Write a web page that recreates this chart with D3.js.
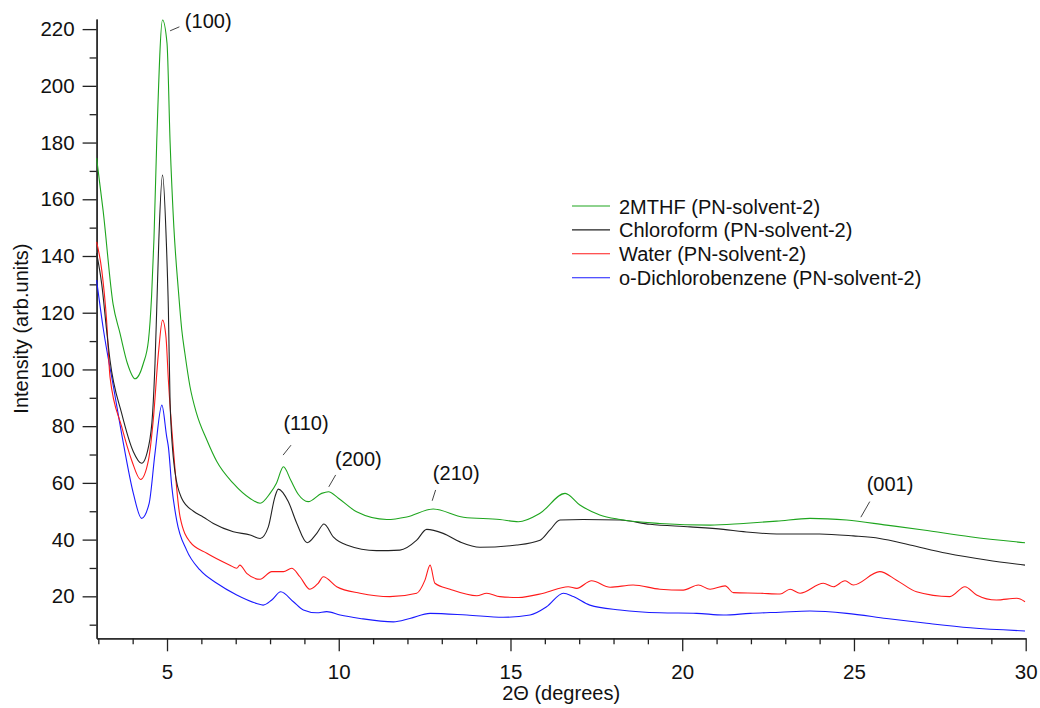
<!DOCTYPE html>
<html>
<head>
<meta charset="utf-8">
<script src="https://cdn.jsdelivr.net/npm/d3@7"></script>
<style>
  body { margin: 0; background: #fff; }
  svg text { font-family: "Liberation Sans", Arial, sans-serif; fill: #111; }
</style>
</head>
<body>
<svg id="chart" width="1040" height="708"></svg>
<script>
// 2-theta / intensity pairs
var mthf = [[2.95,174.5],[3.14,156],[3.43,123],[3.63,112.8],[3.85,102],[4.07,96.7],[4.31,102.1],[4.46,110.3],[4.55,125.6],[4.62,146],[4.7,180],[4.87,223.2],[5.0,215],[5.09,180],[5.2,150],[5.33,128],[5.43,113.9],[5.52,105.7],[5.67,93.9],[5.86,84.5],[6.16,75.1],[6.45,67.5],[6.93,59.8],[7.42,54.5],[7.71,52.8],[8.0,56.3],[8.19,60],[8.39,65.7],[8.6,61],[8.82,56],[9.11,53.4],[9.5,56.3],[9.7,56.9],[9.99,54.6],[10.52,49.8],[11.4,47.1],[11.98,48],[12.75,50.8],[13.63,47.9],[14.69,47.1],[15.23,46.3],[15.86,49.3],[16.59,56.3],[17.02,52.2],[17.6,48.7],[18.19,47.1],[19.35,45.7],[20.81,45.1],[21.78,45.7],[22.75,46.5],[23.72,47.5],[24.79,46.9],[25.95,45.1],[27.02,43.4],[28.38,41],[29.98,38.9]];

var chloroform = [[2.95,141],[3.1,130],[3.24,114],[3.34,103.3],[3.68,84.5],[4.02,71],[4.26,66.9],[4.46,72.7],[4.58,84.5],[4.65,102],[4.7,121],[4.76,145],[4.87,168.5],[4.98,145],[5.04,121],[5.09,88],[5.23,64],[5.43,54.5],[5.77,50],[6.05,48],[6.35,45.7],[6.93,42.8],[7.42,41.6],[7.71,40.4],[7.95,44.5],[8.14,55],[8.24,57.8],[8.53,53.4],[8.78,45.7],[9.08,38.9],[9.36,42.2],[9.57,45.5],[9.84,41],[10.23,38.1],[11.1,36.1],[11.78,36.3],[12.27,39.8],[12.56,43.6],[13.04,42.2],[13.53,39.2],[14.11,37.3],[15.18,38.1],[15.86,39.8],[16.15,43.4],[16.44,46.9],[17.12,47.1],[18.19,46.9],[19.06,45.4],[20.23,44.5],[21.2,43.6],[21.78,42.8],[22.75,42],[24.0,42],[24.98,41.3],[25.75,40.4],[26.63,38.1],[27.7,35.2],[28.86,32.8],[29.98,31]];

var water = [[2.95,145],[3.1,135],[3.24,117.4],[3.34,97.4],[3.68,79.8],[3.97,68],[4.23,61.2],[4.46,68],[4.6,82.2],[4.75,105.7],[4.87,117.4],[4.97,111.5],[5.04,96.2],[5.18,72.7],[5.38,48],[5.67,39.2],[6.16,35.2],[6.83,31],[7.03,29.9],[7.12,31],[7.32,28.1],[7.71,26],[8.05,28.7],[8.39,28.7],[8.63,29.9],[8.87,26.9],[9.16,22.5],[9.4,24.6],[9.55,26.9],[9.94,23.4],[10.62,21.1],[11.49,19.9],[12.27,21.1],[12.51,25.7],[12.66,31],[12.8,24.6],[13.24,22.5],[14.02,20.2],[14.31,21.1],[14.69,19.9],[15.23,19.6],[15.96,21.1],[16.68,23.4],[16.93,22.8],[17.36,25.5],[17.9,23.2],[18.57,24],[19.35,22.5],[20.03,22.2],[20.47,24],[20.81,22.5],[21.25,23.7],[21.49,21.3],[22.27,21.1],[22.85,20.8],[23.14,22.5],[23.43,21.1],[24.11,24.6],[24.4,23.4],[24.74,25.5],[24.98,24],[25.75,28.7],[26.24,25.7],[26.82,21.6],[27.79,19.9],[28.23,23.4],[28.57,20.5],[29.15,18.7],[29.74,19.3],[29.98,18.1]];

var dcb = [[2.95,131.5],[3.15,113.9],[3.44,93.9],[3.73,73.9],[4.02,56.3],[4.26,47.5],[4.48,52.8],[4.65,70.4],[4.85,87.4],[4.99,76.3],[5.04,72.7],[5.14,58.6],[5.28,46.9],[5.57,36.3],[5.96,29.3],[6.45,24.6],[7.03,20.5],[7.61,17.5],[7.8,16.9],[8.05,18.7],[8.31,21.6],[8.68,18.1],[8.97,15.2],[9.36,14.2],[9.65,14.6],[10.04,13.4],[10.62,12.2],[11.59,11],[12.07,12.2],[12.66,14],[13.73,13.4],[14.79,12.6],[15.57,13.4],[16.05,16.3],[16.54,21.1],[16.83,19.9],[17.31,16.9],[18.19,15.2],[19.35,14.2],[20.42,14],[21.2,13.4],[21.98,14],[22.85,14.4],[23.72,14.8],[24.79,14],[25.95,12.2],[27.12,10.5],[28.38,8.9],[29.98,7.8]];

var seriesNames = ["2MTHF (PN-solvent-2)", "Chloroform (PN-solvent-2)", "Water (PN-solvent-2)", "o-Dichlorobenzene (PN-solvent-2)"];
var seriesColors = ["#1ea51e", "#222222", "#ff1a1a", "#1a1aff"];

var xMajor = [5, 10, 15, 20, 25, 30];
var xMinor = [3, 4, 6, 7, 8, 9, 11, 12, 13, 14, 16, 17, 18, 19, 21, 22, 23, 24, 26, 27, 28, 29];
var yMajor = [20, 40, 60, 80, 100, 120, 140, 160, 180, 200, 220];
var yMinor = [10, 30, 50, 70, 90, 110, 130, 150, 170, 190, 210];

// peak labels: text anchor and leader line ends, all in data units
var peakLabels = ["(100)", "(110)", "(200)", "(210)", "(001)"];
var peakText = [[5.52, 220.5], [8.39, 78.8], [9.89, 65.9], [12.74, 61], [25.37, 57.3]];
var peakLead = [[[5.09, 219.4], [5.36, 220.8]], [[8.38, 69.8], [8.61, 73.3]], [[9.71, 58.6], [9.91, 62.8]], [[12.72, 53.7], [12.82, 57.5]], [[25.2, 47.9], [25.46, 53.4]]];

var svg = d3.select("#chart");

var x = d3.scaleLinear().domain([2.95, 30]).range([96.6, 1025.7]);
var y = d3.scaleLinear().domain([5.2, 223.6]).range([638.3, 18.9]);

var fs = 20;

// axes: long ticks with labels, short ticks without
svg.append("g")
    .attr("transform", "translate(0," + y.range()[0] + ")")
    .call(d3.axisBottom(x).tickValues(xMinor).tickSize(6).tickSizeOuter(0).tickFormat(""));
svg.append("g")
    .attr("transform", "translate(0," + y.range()[0] + ")")
    .call(d3.axisBottom(x).tickValues(xMajor).tickSize(13).tickSizeOuter(0).tickPadding(13).tickFormat(d3.format("d")));
svg.append("g")
    .attr("transform", "translate(" + x.range()[0] + ",0)")
    .call(d3.axisLeft(y).tickValues(yMinor).tickSize(7).tickSizeOuter(0).tickFormat(""));
svg.append("g")
    .attr("transform", "translate(" + x.range()[0] + ",0)")
    .call(d3.axisLeft(y).tickValues(yMajor).tickSize(14).tickSizeOuter(0).tickPadding(8).tickFormat(d3.format("d")));

svg.selectAll(".domain, .tick line").attr("stroke", "#222").attr("stroke-width", 1.3);
svg.selectAll(".tick text")
    .attr("font-size", 20.5)
    .attr("font-family", "Liberation Sans, Arial, sans-serif")
    .attr("fill", "#111");

svg.append("text")
    .attr("x", (x.range()[0] + x.range()[1]) / 2)
    .attr("y", 700)
    .attr("text-anchor", "middle")
    .attr("font-size", fs)
    .text("2\u0398 (degrees)");

svg.append("text")
    .attr("transform", "translate(28," + (y.range()[0] + y.range()[1]) / 2 + ") rotate(-90)")
    .attr("text-anchor", "middle")
    .attr("font-size", fs)
    .text("Intensity (arb.units)");

var line = d3.line()
    .x(function(d) { return x(d[0]); })
    .y(function(d) { return y(d[1]); })
    .curve(d3.curveMonotoneX);

// draw bottom series first so green sits on top
var allSeries = [mthf, chloroform, water, dcb];
[3, 2, 1, 0].forEach(function(i) {
  svg.append("path")
      .attr("d", line(allSeries[i]))
      .attr("fill", "none")
      .attr("stroke", seriesColors[i])
      .attr("stroke-width", 1.1);
});

// peak annotations
peakLabels.forEach(function(lbl, i) {
  svg.append("line")
      .attr("x1", x(peakLead[i][0][0])).attr("y1", y(peakLead[i][0][1]))
      .attr("x2", x(peakLead[i][1][0])).attr("y2", y(peakLead[i][1][1]))
      .attr("stroke", "#444").attr("stroke-width", 1);
  svg.append("text")
      .attr("x", x(peakText[i][0]))
      .attr("y", y(peakText[i][1]))
      .attr("font-size", fs)
      .text(lbl);
});

// legend
var legend = svg.append("g").attr("transform", "translate(572,206)");
var item = legend.selectAll("g")
    .data(seriesNames)
  .enter().append("g")
    .attr("transform", function(d, i) { return "translate(0," + i * 23.9 + ")"; });
item.append("line")
    .attr("x1", 0).attr("x2", 38)
    .attr("stroke", function(d, i) { return seriesColors[i]; })
    .attr("stroke-width", 1.1);
item.append("text")
    .attr("x", 47)
    .attr("y", 7.5)
    .attr("font-size", fs)
    .text(function(d) { return d; });
</script>
</body>
</html>
